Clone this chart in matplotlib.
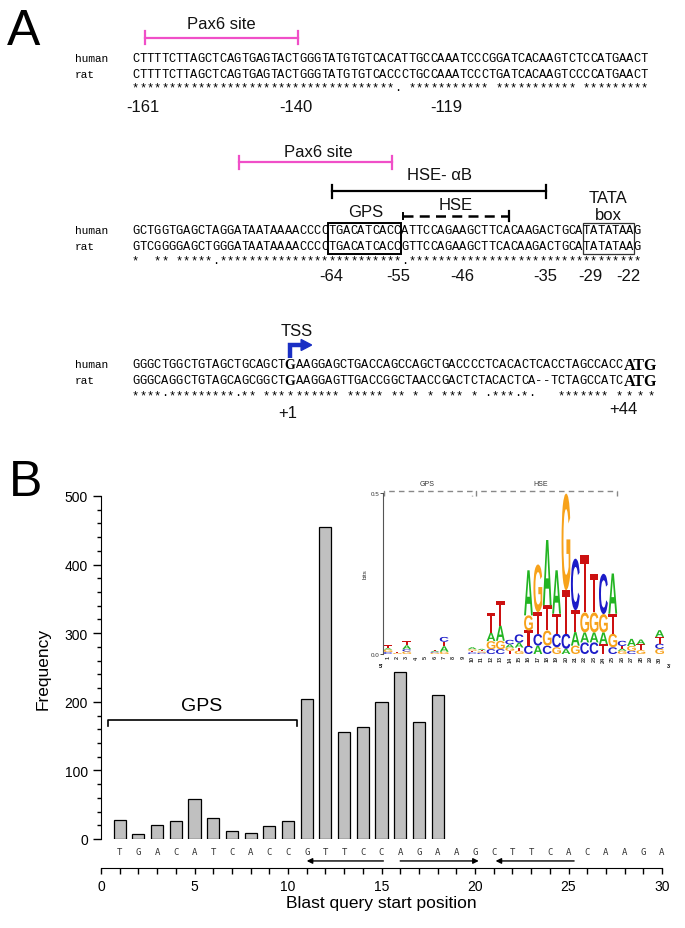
import matplotlib
matplotlib.use("Agg")
import matplotlib.pyplot as plt
import matplotlib.transforms as mtransforms
from matplotlib.patches import Rectangle, PathPatch, Polygon
from matplotlib.textpath import TextPath
from matplotlib.font_manager import FontProperties

plt.rcParams['font.family'] = 'Liberation Sans'

# ---------------- panel A : human / rat alignment ----------------
row1_human = "CTTTTCTTAGCTCAGTGAGTACTGGGTATGTGTCACATTGCCAAATCCCGGATCACAAGTCTCCATGAACT"
row1_rat = "CTTTTCTTAGCTCAGTGAGTACTGGGTATGTGTCACCCTGCCAAATCCCTGATCACAAGTCCCCATGAACT"
row1_match = "************************************. *********** *********** *********"

row2_human = "GCTGGTGAGCTAGGATAATAAAACCCCTGACATCACCATTCCAGAAGCTTCACAAGACTGCATATATAAG"
row2_rat = "GTCGGGGAGCTGGGATAATAAAACCCCTGACATCACCGTTCCAGAAGCTTCACAAGACTGCATATATAAG"
row2_match = "*  ** *****.*************************.********************************"

row3_human = "GGGCTGGCTGTAGCTGCAGCTGAAGGAGCTGACCAGCCAGCTGACCCCTCACACTCACCTAGCCACC"
row3_rat = "GGGCAGGCTGTAGCAGCGGCTGAAGGAGTTGACCGGCTAACCGACTCTACACTCA--TCTAGCCATC"
row3_match = "****·*********·** ********** ***** ** * * *** * ·***·*·   ******* *"
tss_index = 21
start_codon = "ATG"

# ---------------- panel B : blast hits ----------------
positions = list(range(1, 19))
frequency = [27, 8, 21, 26, 58, 31, 11, 9, 19, 26,
             204, 455, 156, 163, 200, 244, 170, 210]
query_seq = "TGACATCACCGTTCCAGAAGCTTCACAAGA"

# sequence logo, bases stacked bottom -> top, heights in bits
logo_bases = ["CGAT", "GT", "GCAT", "", "", "GCAT", "GATC", "", "", "CTGA",
              "CGTA", "CGAT", "CGAT", "TGAC", "GTAC", "CTGA", "ACTG", "CGTA",
              "GCTA", "ACTG", "GATC", "CAGT", "CAGT", "TAGC", "CGTA", "GATC",
              "CGA", "GTA", "", "GCTA"]
logo_bits = [[0.006, 0.008, 0.004, 0.01], [0.003, 0.003],
             [0.008, 0.007, 0.012, 0.012], [], [],
             [0.004, 0.003, 0.003, 0.003], [0.007, 0.017, 0.014, 0.015], [], [],
             [0.005, 0.005, 0.005, 0.006], [0.004, 0.004, 0.004, 0.004],
             [0.015, 0.025, 0.026, 0.062], [0.015, 0.026, 0.047, 0.078],
             [0.01, 0.01, 0.01, 0.014], [0.01, 0.01, 0.015, 0.026],
             [0.026, 0.047, 0.047, 0.14], [0.026, 0.036, 0.068, 0.148],
             [0.026, 0.047, 0.078, 0.203], [0.021, 0.042, 0.062, 0.135],
             [0.016, 0.047, 0.135, 0.30], [0.026, 0.042, 0.068, 0.16],
             [0.036, 0.031, 0.062, 0.179], [0.036, 0.031, 0.062, 0.12],
             [0.031, 0.036, 0.057, 0.125], [0.021, 0.042, 0.062, 0.125],
             [0.01, 0.007, 0.008, 0.016], [0.01, 0.015, 0.022],
             [0.012, 0.018, 0.015], [], [0.016, 0.016, 0.021, 0.021]]
base_colors = {"A": "#22b422", "C": "#1c1cc8", "G": "#f7a21b", "T": "#cc1111"}

W, H = 685, 929
fig = plt.figure(figsize=(W / 100, H / 100), dpi=100)

# overlay in pixel coordinates for panel A
axA = fig.add_axes([0, 0, 1, 1])
axA.set_xlim(0, W)
axA.set_ylim(H, 0)
axA.axis("off")

X0, CW = 132, 7.27
MONO = "Liberation Mono"


def seq_text(s, y, start=0.0, size=8.72):
    for i, c in enumerate(s):
        axA.text(X0 + (start + i + 0.5) * CW, y, c, family=MONO, fontsize=size,
                 ha="center", va="center", color="black")


def bar(x1, x2, y, color, ls="-", tick=6.5):
    axA.plot([x1, x2], [y, y], color=color, lw=1.6, ls=ls)
    axA.plot([x1, x1], [y - tick, y + tick], color=color, lw=1.6)
    axA.plot([x2, x2], [y - tick, y + tick], color=color, lw=1.6)


def label(x, y, s, size=12):
    axA.text(x, y, s, fontsize=size, ha="center", va="center", color="#111")


axA.text(7, 45, "A", fontsize=36, va="baseline", ha="left")
axA.text(9, 496, "B", fontsize=36, va="baseline", ha="left")

magenta = "#f04fc8"
# row 1
label(221, 24, "Pax6 site")
bar(145, 298, 38.5, magenta)
for y, s, name in [(59, row1_human, "human"), (74.5, row1_rat, "rat")]:
    axA.text(75, y, name, family=MONO, fontsize=8, va="center", color="black")
    seq_text(s, y)
seq_text(row1_match, 88)
for x, s in [(143, "-161"), (296, "-140"), (446, "-119")]:
    label(x, 107, s)

# row 2
label(318, 152, "Pax6 site")
bar(239.5, 392.5, 163, magenta)
label(440, 175, "HSE- \u03b1B")
bar(332, 546, 192, "black")
label(608, 198, "TATA")
label(608, 215, "box")
label(366, 212, "GPS")
label(456, 205, "HSE")
axA.plot([403, 509], [217, 217], color="black", lw=1.8, ls=(0, (4, 2.5)))
axA.plot([509, 509], [212, 222], color="black", lw=1.6)
axA.plot([403, 403], [214, 220], color="black", lw=1.4)
for y, s, name in [(231, row2_human, "human"), (247, row2_rat, "rat")]:
    axA.text(75, y, name, family=MONO, fontsize=8, va="center", color="black")
    seq_text(s, y)
seq_text(row2_match, 261)
axA.add_patch(Rectangle((X0 + 27 * CW, 224), 10 * CW, 31, fill=False,
                        ec="black", lw=1.4))
axA.add_patch(Rectangle((X0 + 62 * CW, 224), 7 * CW, 31, fill=False,
                        ec="#333", lw=0.9))
for x, s in [(331, "-64"), (398, "-55"), (462, "-46"), (545, "-35"),
             (590, "-29"), (628, "-22")]:
    label(x, 276, s)

# row 3 : the TSS base takes 1.5 cells, the rest shifts right
label(297, 331, "TSS")
blue = "#1a2fc4"
g_x = X0 + (tss_index + 0.75) * CW
axA.plot([g_x - 0.5, g_x - 0.5, g_x + 12], [359, 346, 346], color=blue, lw=3.2,
         solid_joinstyle="miter", solid_capstyle="butt")
axA.add_patch(Polygon([[g_x + 11, 340.5], [g_x + 21.5, 346], [g_x + 11, 351.5]],
                      color=blue))
after = tss_index + 1.5
for y, s, name in [(365, row3_human, "human"), (381, row3_rat, "rat")]:
    axA.text(75, y, name, family=MONO, fontsize=8, va="center", color="black")
    seq_text(s[:tss_index], y)
    seq_text(s[tss_index + 1:], y, start=after)
    axA.text(g_x, y + 0.5, s[tss_index], family="Liberation Serif",
             weight="bold", fontsize=10, ha="center", va="center", color="black")
    axA.text(X0 + (len(s) + 0.5) * CW + 1, y + 0.5, start_codon,
             family="Liberation Serif", weight="bold", fontsize=11.5,
             ha="left", va="center", color="black")
seq_text(row3_match[:tss_index], 396)
axA.text(g_x, 396, row3_match[tss_index], family=MONO, fontsize=8.72,
         ha="center", va="center", color="black")
seq_text(row3_match[tss_index + 1:], 396, start=after)
for x in [629, 640, 651]:
    axA.text(x, 396, "*", family=MONO, fontsize=8.72, ha="center", va="center",
             color="black")
label(288, 413, "+1")
label(623, 410, "+44")

# ---------------- panel B ----------------
axB = fig.add_axes([101 / W, (H - 840) / H, 561 / W, 343 / H])
axB.bar(positions, frequency, width=0.65, color="#c0c0c0",
        edgecolor="black", linewidth=0.9)
axB.set_xlim(0, 30)
axB.set_ylim(0, 500)
axB.spines["top"].set_visible(False)
axB.spines["right"].set_visible(False)
axB.spines["left"].set_bounds(0, 500)
axB.spines["bottom"].set_position(("outward", 21))
axB.set_xticks(range(0, 31, 5))
axB.set_xticks(range(0, 31), minor=True)
axB.set_yticks(range(0, 501, 100))
axB.set_yticks(range(0, 501, 20), minor=True)
axB.tick_params(axis="x", which="both", direction="out", length=4, width=1,
                labelsize=10)
axB.tick_params(axis="y", which="major", direction="out", length=6, width=1,
                labelsize=10)
axB.tick_params(axis="y", which="minor", direction="out", length=3, width=1)
axB.set_xlabel("Blast query start position", fontsize=12.5, labelpad=2)
axB.set_ylabel("Frequency", fontsize=12.5, labelpad=10)

for i, c in enumerate(query_seq):
    axB.text(i + 1, -17.5, c, fontsize=6.5, family="DejaVu Sans Mono",
             ha="center", va="center", color="#333", clip_on=False)
for x_from, x_to in [(15.1, 11.0), (16.0, 20.2), (25.3, 21.1)]:
    axB.annotate("", xy=(x_to, -32), xytext=(x_from, -32),
                 arrowprops=dict(arrowstyle="-|>", color="black", lw=1,
                                 mutation_scale=8, shrinkA=0, shrinkB=0),
                 annotation_clip=False)
axB.plot([0.4, 0.4, 10.5, 10.5], [165, 173, 173, 165], color="black", lw=1.2,
         clip_on=False)
axB.text(5.4, 195, "GPS", fontsize=14, ha="center", va="center")

# ---------------- inset: sequence logo ----------------
axL = fig.add_axes([383.3 / W, (H - 655) / H, 281 / W, 161 / H])
axL.set_facecolor("none")
axL.set_xlim(0.5, 30.5)
axL.set_ylim(0, 0.5)
for side in ["top", "right", "bottom"]:
    axL.spines[side].set_visible(False)
axL.spines["left"].set_color("#555")
axL.spines["left"].set_linewidth(0.8)
axL.set_xticks([])
axL.set_yticks([0, 0.5])
axL.set_yticklabels(["0.0", "0.5"])
axL.tick_params(axis="y", length=2, width=0.6, labelsize=4.5, pad=1,
                colors="#333")
axL.set_ylabel("bits", fontsize=4.5, labelpad=2, color="#333")

fp = FontProperties(family="Liberation Sans", weight="bold")


def draw_letter(ch, x, y, w, h):
    tp = TextPath((0, 0), ch, size=1, prop=fp)
    bb = tp.get_extents()
    t = (mtransforms.Affine2D().translate(-bb.x0, -bb.y0)
         .scale(w / bb.width, h / bb.height).translate(x - w / 2, y))
    axL.add_patch(PathPatch(t.transform_path(tp), color=base_colors[ch], lw=0))


for p, (bases, bits) in enumerate(zip(logo_bases, logo_bits), start=1):
    y = 0
    for ch, h in zip(bases, bits):
        draw_letter(ch, p, y, 0.94, h)
        y += h
    axL.text(p, -0.004, str(p), rotation=90, fontsize=4, weight="bold",
             ha="center", va="top", color="#333")
axL.text(0.3, -0.028, "5'", fontsize=4, weight="bold", ha="center", va="top")
axL.text(31.0, -0.028, "3'", fontsize=4, weight="bold", ha="center", va="top")

grey = "#888"
for x1, x2, x_lab, lab in [(0.57, 10.0, 5.2, "GPS"), (10.35, 25.5, 17.3, "HSE")]:
    axL.plot([x1, x1, x2, x2], [0.49, 0.505, 0.505, 0.49], color=grey, lw=1,
             ls=(0, (4, 3)), clip_on=False)
    axL.text(x_lab, 0.53, lab, fontsize=5, ha="center", va="center",
             color="#333")

fig.savefig("out.png", dpi=100)
